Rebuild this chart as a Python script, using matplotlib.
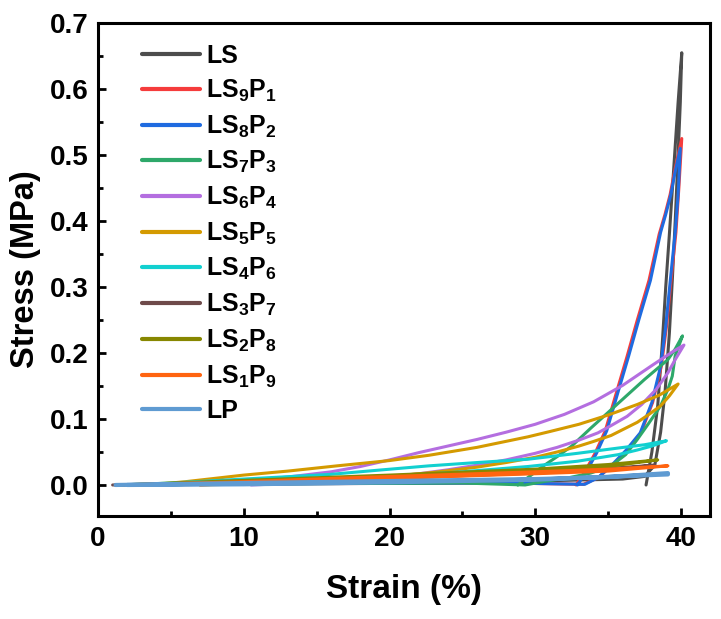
import matplotlib
matplotlib.use("Agg")
import matplotlib.pyplot as plt
from matplotlib.ticker import MultipleLocator, FormatStrFormatter

plt.rcParams['font.family'] = ['Liberation Sans', 'DejaVu Sans']
plt.rcParams['font.weight'] = 'bold'
plt.rcParams['mathtext.fontset'] = 'custom'
plt.rcParams['mathtext.rm'] = 'Liberation Sans:bold'
plt.rcParams['mathtext.bf'] = 'Liberation Sans:bold'
plt.rcParams['mathtext.it'] = 'Liberation Sans:bold'
plt.rcParams['mathtext.default'] = 'bf'

# ---- data (strain %, stress MPa), loading branch then unloading branch ----
ls_strain = [1.2, 10, 20, 30, 36, 37.5, 38.2, 38.6, 38.9, 39.2, 39.4, 39.6, 39.8, 39.95, 40.05,
             39.8, 39.5, 39.2, 38.95, 38.7, 38.4, 38.0, 37.6]
ls_stress = [0.0, 0.002, 0.004, 0.006, 0.009, 0.013, 0.03, 0.08, 0.14, 0.23, 0.31, 0.40, 0.50, 0.58, 0.655,
             0.58, 0.48, 0.38, 0.30, 0.21, 0.12, 0.05, 0.0]

ls9p1_strain = [1.5, 15, 28, 33.3, 34.3, 35.25, 36.3, 37.25, 38.05, 38.65, 39.0, 39.3, 39.65, 39.85, 40.05,
                39.6, 39.25, 38.9, 38.5, 37.8, 37.0, 36.3, 35.5, 34.8, 34.1, 33.4, 32.8]
ls9p1_stress = [0.0, 0.002, 0.003, 0.001, 0.011, 0.029, 0.052, 0.079, 0.125, 0.18, 0.24, 0.307, 0.383, 0.45, 0.525,
                0.48, 0.44, 0.41, 0.38, 0.31, 0.25, 0.195, 0.135, 0.082, 0.048, 0.02, 0.0]

ls8p2_strain = [1.5, 15, 28, 33.4, 34.3, 35.2, 36.2, 37.2, 38.0, 38.6, 38.95, 39.25, 39.6, 39.8, 39.95,
                39.6, 39.3, 38.95, 38.6, 37.9, 37.1, 36.4, 35.6, 34.9, 34.2, 33.5, 32.9]
ls8p2_stress = [0.0, 0.002, 0.003, 0.001, 0.011, 0.029, 0.052, 0.079, 0.125, 0.18, 0.24, 0.307, 0.383, 0.44, 0.51,
                0.475, 0.44, 0.41, 0.383, 0.31, 0.25, 0.195, 0.135, 0.082, 0.048, 0.02, 0.0]

ls7p3_strain = [1.5, 15, 25, 29.3, 30.8, 32.3, 33.8, 35.2, 36.2, 37.0, 37.8, 38.6, 39.1, 39.4, 39.6, 40.1,
                39.6, 39.1, 38.3, 37.5, 36.3, 35.2, 33.8, 32.5, 31.5, 30.5, 29.6, 28.8]
ls7p3_stress = [0.0, 0.002, 0.003, 0.0, 0.006, 0.011, 0.018, 0.029, 0.046, 0.069, 0.094, 0.12, 0.145, 0.165, 0.196, 0.226,
                0.206, 0.19, 0.175, 0.16, 0.136, 0.114, 0.086, 0.059, 0.043, 0.028, 0.013, 0.0]

ls6p4_strain = [1.5, 6, 10, 13, 16, 18, 20, 22, 24, 26, 28, 30, 32, 34, 36, 38, 39.5, 40.2,
                39.6, 39.1, 38.3, 37.3, 36.3, 35.2, 34.3, 33, 31.5, 30, 28, 26, 24, 22, 20, 17, 14, 10.5]
ls6p4_stress = [0.0, 0.002, 0.006, 0.012, 0.02, 0.028, 0.038, 0.049, 0.059, 0.069, 0.08, 0.092, 0.107, 0.126, 0.151, 0.181, 0.203, 0.212,
                0.19, 0.17, 0.145, 0.122, 0.104, 0.09, 0.079, 0.068, 0.057, 0.048, 0.038, 0.03, 0.023, 0.017, 0.012, 0.007, 0.003, 0.0]

ls5p5_strain = [1.5, 4, 6, 8, 10, 13, 16.4, 20, 22.7, 26, 29.5, 31, 33, 35, 37, 38.5, 39.8,
                39.2, 38.6, 37.8, 37, 36.1, 35.2, 34, 33, 31.5, 30, 28, 26, 23, 20, 17, 14, 11, 9, 7]
ls5p5_stress = [0.0, 0.001, 0.005, 0.01, 0.015, 0.021, 0.029, 0.037, 0.045, 0.057, 0.073, 0.081, 0.092, 0.106, 0.122, 0.136, 0.153,
                0.135, 0.12, 0.107, 0.095, 0.085, 0.075, 0.066, 0.059, 0.05, 0.042, 0.034, 0.027, 0.019, 0.013, 0.009, 0.006, 0.003, 0.001, 0.0]

ls4p6_strain = [1.5, 5, 10, 15.9, 19, 22.7, 26, 29.5, 32.9, 35.7, 37.5, 39.0,
                38, 37, 35.7, 34.3, 32.9, 29.5, 25, 20, 15, 10, 5]
ls4p6_stress = [0.0, 0.003, 0.009, 0.016, 0.022, 0.029, 0.034, 0.039, 0.048, 0.056, 0.061, 0.067,
                0.059, 0.053, 0.046, 0.041, 0.036, 0.028, 0.02, 0.013, 0.008, 0.004, 0.0]

ls3p7_strain = [1.0, 10, 20, 30, 35, 38.2, 35, 30, 20, 10, 3]
ls3p7_stress = [0.0, 0.005, 0.012, 0.02, 0.025, 0.03, 0.023, 0.018, 0.01, 0.004, 0.0]

ls2p8_strain = [1.5, 10, 20, 30, 35, 38.4, 35, 30, 20, 10, 3]
ls2p8_stress = [0.0, 0.007, 0.015, 0.024, 0.031, 0.038, 0.028, 0.021, 0.012, 0.004, 0.0]

ls1p9_strain = [1.5, 10, 16, 23, 30, 35, 39.1, 35, 30, 20, 10, 7]
ls1p9_stress = [0.0, 0.005, 0.01, 0.015, 0.02, 0.024, 0.029, 0.021, 0.017, 0.01, 0.003, 0.0]

lp_strain = [1.2, 10, 20, 30, 35, 39.1, 39.1, 30, 20, 10, 2]
lp_stress = [0.0, 0.003, 0.006, 0.009, 0.012, 0.018, 0.016, 0.008, 0.004, 0.001, 0.0]

labels = ['LS', 'LS$_9$P$_1$', 'LS$_8$P$_2$', 'LS$_7$P$_3$', 'LS$_6$P$_4$', 'LS$_5$P$_5$',
          'LS$_4$P$_6$', 'LS$_3$P$_7$', 'LS$_2$P$_8$', 'LS$_1$P$_9$', 'LP']
colors = ['#4d4d4d', '#f53c3c', '#1f6be0', '#2ea86a', '#b46ee0', '#d49a00',
          '#12d0d0', '#6e4a4a', '#878700', '#ff6410', '#5f9bd2']
series = [(ls_strain, ls_stress), (ls9p1_strain, ls9p1_stress), (ls8p2_strain, ls8p2_stress),
          (ls7p3_strain, ls7p3_stress), (ls6p4_strain, ls6p4_stress), (ls5p5_strain, ls5p5_stress),
          (ls4p6_strain, ls4p6_stress), (ls3p7_strain, ls3p7_stress), (ls2p8_strain, ls2p8_stress),
          (ls1p9_strain, ls1p9_stress), (lp_strain, lp_stress)]

fig = plt.figure(figsize=(7.21, 6.19), dpi=100)
ax = fig.add_axes([0.136, 0.1664, 0.849, 0.7964])

for (xs, ys), lab, c in zip(series, labels, colors):
    lw = 3.0 if lab == 'LP' else 2.2
    ax.plot(xs, ys, color=c, lw=lw, label=lab, solid_capstyle='round', solid_joinstyle='round')

ax.set_xlim(0, 42)
ax.set_ylim(-0.047, 0.7)
ax.xaxis.set_major_locator(MultipleLocator(10))
ax.xaxis.set_minor_locator(MultipleLocator(5))
ax.yaxis.set_major_locator(MultipleLocator(0.1))
ax.yaxis.set_minor_locator(MultipleLocator(0.05))
ax.yaxis.set_major_formatter(FormatStrFormatter('%.1f'))

for s in ax.spines.values():
    s.set_linewidth(2.2)
ax.tick_params(which='major', direction='in', length=6, width=2, labelsize=20, pad=7)
ax.tick_params(which='minor', direction='in', length=3.5, width=2)
for t in ax.get_xticklabels() + ax.get_yticklabels():
    t.set_fontweight('bold')

ax.set_xlabel('Strain (%)', fontsize=24, fontweight='bold', labelpad=16)
ax.set_ylabel('Stress (MPa)', fontsize=23.5, fontweight='bold', labelpad=6)

leg = ax.legend(loc='upper left', bbox_to_anchor=(0.072, 0.957), frameon=False,
                fontsize=18, handlelength=2.3, handletextpad=0.25, labelspacing=0.38,
                borderpad=0, borderaxespad=0)
for line in leg.get_lines():
    line.set_linewidth(3)

fig.savefig('out.png', dpi=100)
